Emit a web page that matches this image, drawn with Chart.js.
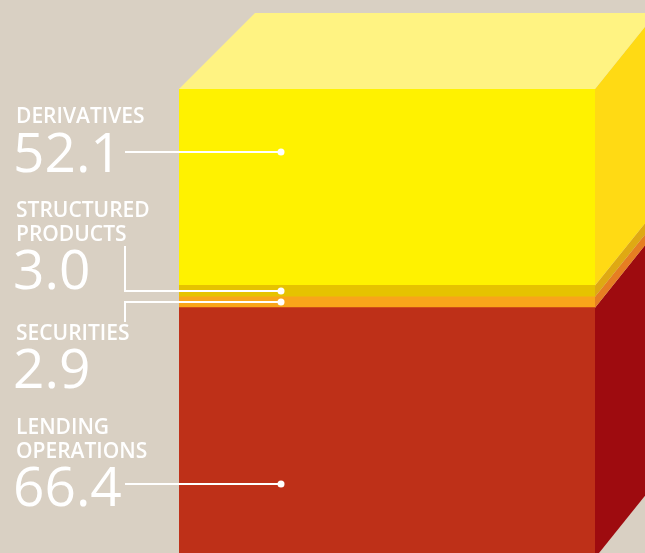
<!DOCTYPE html>
<html>
<head>
<meta charset="utf-8">
<title>Risk weighted assets</title>
<script src="https://cdn.jsdelivr.net/npm/chart.js@4"></script>
<style>
    html, body { margin: 0; padding: 0; overflow: hidden; background: #d9d0c3; }
    #wrap { position: relative; width: 645px; height: 558px; }
</style>
</head>
<body>
<div id="wrap"><canvas id="stackChart"></canvas></div>
<script>
// Bottom of the stack first
const categories = ['Lending operations', 'Securities', 'Structured products', 'Derivatives'];
const values = [66.4, 2.9, 3.0, 52.1];
const valueLabels = ['66.4', '2.9', '3.0', '52.1'];
const nameLines = [['LENDING', 'OPERATIONS'], ['SECURITIES'], ['STRUCTURED', 'PRODUCTS'], ['DERIVATIVES']];

const frontColors = ['#be3018', '#f9a51a', '#e6c300', '#fff200'];
const sideColors = ['#9e0b0f', '#e67e22', '#dfa913', '#ffda14'];
const topColor = '#fff382';
const sideDx = 61, sideDy = 76, topLeftDx = 76;

// Text baselines per segment, and where the leader sits inside the segment (0 = base, 1 = top)
const nameBaselines = [[434, 458], [340], [217, 241], [123]];
const valueBaselines = [506, 388, 289, 172];
const leaderFraction = [0.296, 0.5, 0.5, 0.68];
const elbowEnd = [null, 322, 246, null];

function polygon(ctx, pts, color) {
    ctx.fillStyle = color;
    ctx.beginPath();
    pts.forEach((p, i) => i ? ctx.lineTo(p[0], p[1]) : ctx.moveTo(p[0], p[1]));
    ctx.closePath();
    ctx.fill();
}

// Side and top faces of the block, taken from the bar elements
const blockFaces = {
    id: 'blockFaces',
    beforeDatasetsDraw(chart) {
        const ctx = chart.ctx;
        ctx.save();
        values.forEach((v, i) => {
            const bar = chart.getDatasetMeta(i).data[0];
            const right = bar.x + bar.width / 2;
            polygon(ctx, [
                [right, bar.y], [right + sideDx, bar.y - sideDy],
                [right + sideDx, bar.base - sideDy], [right, bar.base]
            ], sideColors[i]);
        });
        const topBar = chart.getDatasetMeta(values.length - 1).data[0];
        const left = topBar.x - topBar.width / 2;
        const right = topBar.x + topBar.width / 2;
        polygon(ctx, [
            [left, topBar.y], [left + topLeftDx, topBar.y - sideDy],
            [right + sideDx, topBar.y - sideDy], [right, topBar.y]
        ], topColor);
        ctx.restore();
    }
};

// Leader lines and the text block on the left
const callouts = {
    id: 'callouts',
    afterDatasetsDraw(chart) {
        const ctx = chart.ctx;
        const y = chart.scales.y;
        let base = 0;
        ctx.save();
        ctx.fillStyle = '#ffffff';
        ctx.strokeStyle = '#ffffff';
        ctx.lineWidth = 2;
        values.forEach((v, i) => {
            const py = Math.round(y.getPixelForValue(base + v * leaderFraction[i]));
            ctx.beginPath();
            if (elbowEnd[i] !== null) {
                ctx.moveTo(125, elbowEnd[i]);
                ctx.lineTo(125, py);
            } else {
                ctx.moveTo(125, py);
            }
            ctx.lineTo(281, py);
            ctx.stroke();
            ctx.beginPath();
            ctx.arc(281, py, 3.5, 0, Math.PI * 2);
            ctx.fill();

            ctx.textBaseline = 'alphabetic';
            ctx.font = '600 21px "Open Sans"';
            nameLines[i].forEach((line, j) => ctx.fillText(line, 16, nameBaselines[i][j]));
            ctx.font = '400 55px "Open Sans"';
            ctx.fillText(valueLabels[i], 13, valueBaselines[i]);
            base += v;
        });
        ctx.restore();
    }
};

new Chart(document.getElementById('stackChart').getContext('2d'), {
    type: 'bar',
    data: {
        labels: ['Total'],
        datasets: values.map((v, i) => ({
            label: categories[i],
            data: [v],
            backgroundColor: frontColors[i],
            barPercentage: 1,
            categoryPercentage: 1
        }))
    },
    options: {
        responsive: true,
        maintainAspectRatio: false,
        animation: false,
        layout: { padding: { left: 179, right: 50, top: 89, bottom: 0 } },
        scales: {
            x: { stacked: true, display: false },
            y: { stacked: true, display: false, min: 0, max: 124.4 }
        },
        plugins: { legend: { display: false }, tooltip: { enabled: false } }
    },
    plugins: [blockFaces, callouts]
});
</script>
</body>
</html>
